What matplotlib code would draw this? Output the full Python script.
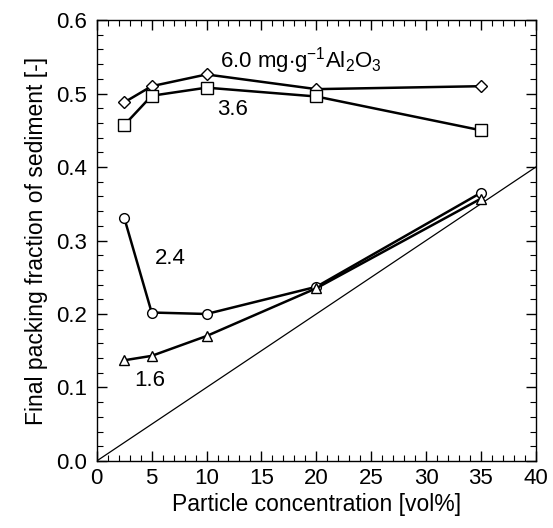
import matplotlib
matplotlib.use("Agg")
import matplotlib.pyplot as plt
from matplotlib.ticker import MultipleLocator

plt.rcParams['font.family'] = ['Liberation Sans', 'DejaVu Sans']
plt.rcParams['mathtext.fontset'] = 'custom'
plt.rcParams['mathtext.rm'] = 'Liberation Sans'
plt.rcParams['mathtext.it'] = 'Liberation Sans'

### ========== DATA ========== ###
conc = [2.5, 5, 10, 20, 35]
frac_60 = [0.488, 0.510, 0.526, 0.506, 0.510]
frac_36 = [0.457, 0.497, 0.508, 0.496, 0.450]
frac_24 = [0.331, 0.202, 0.200, 0.237, 0.365]
frac_16 = [0.137, 0.143, 0.170, 0.235, 0.357]
ref_x = [0, 40]
ref_y = [0.0, 0.4]

### ========== PLOT ========== ###
fig = plt.figure(figsize=(5.53, 5.28), dpi=100)
ax = fig.add_axes([0.175, 0.127, 0.794, 0.835])

ax.plot(ref_x, ref_y, color='black', lw=0.9)

style = dict(color='black', lw=1.8, mfc='white', mec='black', mew=1.0)
ax.plot(conc, frac_60, marker='D', ms=6, **style)
ax.plot(conc, frac_36, marker='s', ms=8, **style)
ax.plot(conc, frac_24, marker='o', ms=7, **style)
ax.plot(conc, frac_16, marker='^', ms=6.5, **style)

# series labels
fs = 16
ax.text(11.2, 0.545, r"6.0 mg$\cdot$g$^{\mathregular{-1}}$Al$_2$O$_3$", fontsize=fs, va='center')
ax.text(11.0, 0.478, "3.6", fontsize=fs, va='center')
ax.text(5.3, 0.276, "2.4", fontsize=fs, va='center')
ax.text(3.4, 0.110, "1.6", fontsize=fs, va='center')

ax.set_xlim(0, 40)
ax.set_ylim(0, 0.6)
ax.xaxis.set_major_locator(MultipleLocator(5))
ax.xaxis.set_minor_locator(MultipleLocator(1))
ax.yaxis.set_major_locator(MultipleLocator(0.1))
ax.yaxis.set_minor_locator(MultipleLocator(0.02))
ax.yaxis.set_major_formatter(plt.FormatStrFormatter('%.1f'))
ax.tick_params(which='both', direction='in', top=True, right=True, labelsize=16)
ax.tick_params(which='major', length=7, width=1)
ax.tick_params(which='minor', length=4, width=0.8)
ax.tick_params(axis='x', pad=5)
ax.tick_params(axis='y', pad=7)
for sp in ax.spines.values():
    sp.set_linewidth(1.0)

ax.set_xlabel("Particle concentration [vol%]", fontsize=16.5, labelpad=3)
ax.set_ylabel("Final packing fraction of sediment [-]", fontsize=16.5, labelpad=6)

fig.savefig("out.png", dpi=100)
